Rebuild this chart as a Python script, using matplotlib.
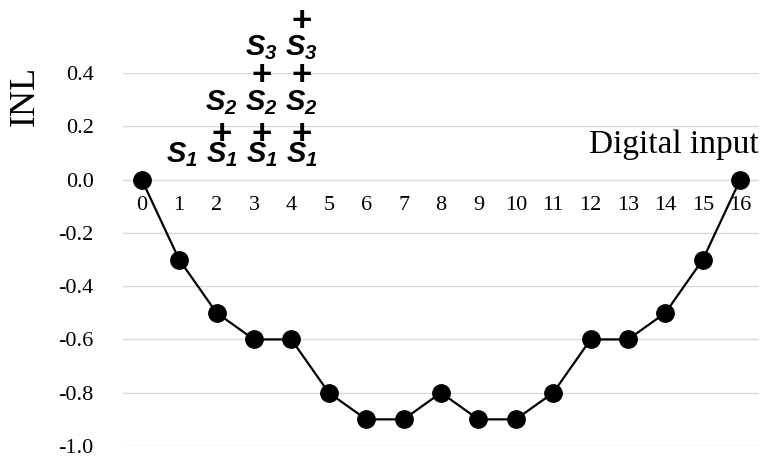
import numpy as np
import matplotlib.pyplot as plt
from matplotlib import rcParams

config = {
    "font.family": 'serif',
    "font.serif": ['Liberation Serif'],
    "mathtext.fontset": 'custom',
    "mathtext.bfit": 'Liberation Sans:italic:bold',
    "mathtext.rm": 'Liberation Sans',
}
rcParams.update(config)

codes = list(range(17))
inl = [0.0, -0.3, -0.5, -0.6, -0.6, -0.8, -0.9, -0.9, -0.8, -0.9, -0.9, -0.8, -0.6, -0.6, -0.5, -0.3, 0.0]
y_ticks = [-1.0, -0.8, -0.6, -0.4, -0.2, 0.0, 0.2, 0.4]

# stacked switch labels: (column, subscript, y)
s_labels = [(1, 1, 0.094), (2, 1, 0.094), (3, 1, 0.094), (4, 1, 0.094),
            (2, 2, 0.29), (3, 2, 0.29), (4, 2, 0.29),
            (3, 3, 0.495), (4, 3, 0.495)]
plus_marks = [(2, 0.17), (3, 0.17), (4, 0.17),
              (3, 0.39), (4, 0.39), (4, 0.595)]

fig = plt.figure(figsize=(7.69, 4.57), dpi=100)
ax = fig.add_axes([123/769, 11/457, 636/769, 373/457])

ax.spines['bottom'].set_position(('data', 0))
for s in ax.spines.values():
    s.set_visible(False)

ax.plot(codes, inl, color='k', linewidth=1.6, marker='o', markersize=12.5, zorder=3)

ax.set_xlim(-0.5, 16.5)
ax.set_ylim(-1.0, 0.4)
ax.set_yticks(y_ticks)
ax.set_yticklabels(['%.1f' % v for v in y_ticks], fontsize=16)
ax.set_xticks(codes)
ax.set_xticklabels([str(c) for c in codes], fontsize=16)
ax.tick_params(axis='y', length=0, pad=21)
ax.tick_params(axis='x', length=0, pad=12)
ax.grid(axis='y', color='#d9d9d9', linewidth=1.0)
ax.set_axisbelow(True)

for col, k, y in s_labels:
    ax.text(col * 1.07, y, r'$\mathbfit{S_%d}$' % k, fontsize=21,
            ha='center', va='center', clip_on=False)
for col, y in plus_marks:
    ax.text(col * 1.07, y, '+', fontsize=25, fontweight='bold', family='Liberation Sans',
            ha='center', va='center', clip_on=False)

ax.text(16.5, 0.10, 'Digital input', fontsize=24, ha='right', va='baseline')
fig.text(25/769, 1 - 96/457, 'INL', fontsize=26, rotation=90, ha='center', va='center')

plt.savefig('out.png', dpi=100)
